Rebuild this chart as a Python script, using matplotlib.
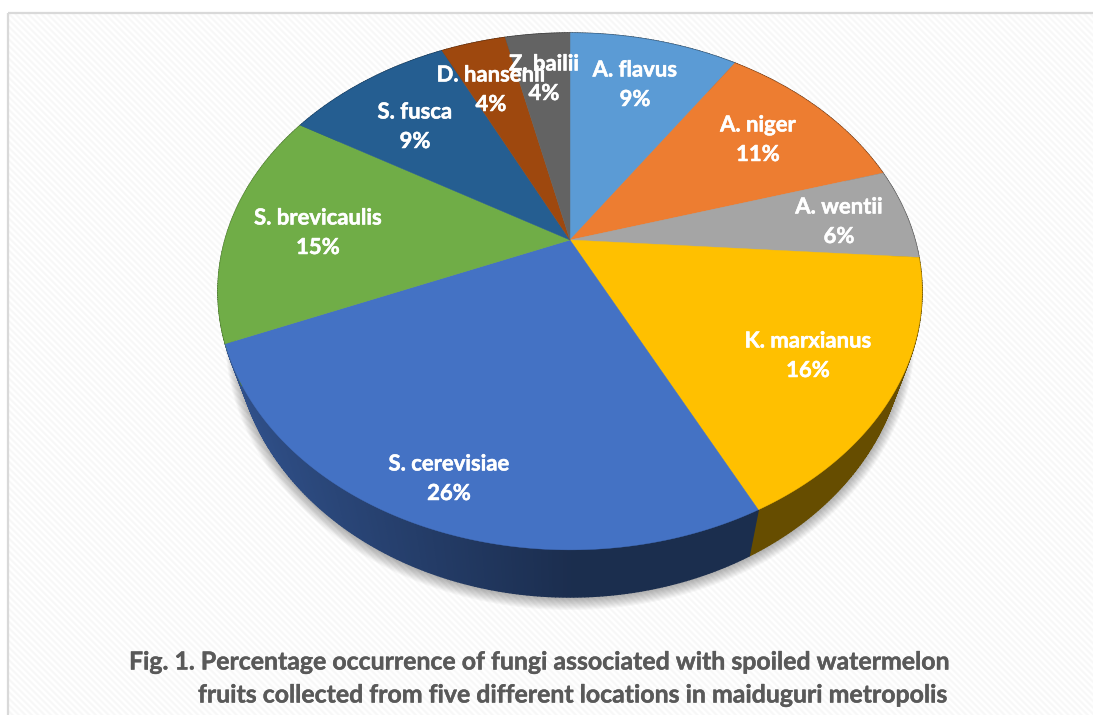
import numpy as np
import matplotlib
matplotlib.use("Agg")
import matplotlib.pyplot as plt
import matplotlib.patheffects as pe
from matplotlib.patches import Polygon

# ---- data ----
species = ["A. flavus", "A. niger", "A. wentii", "K. marxianus", "S. cerevisiae",
           "S. brevicaulis", "S. fusca", "D. hansenii", "Z. bailii"]
shares = [9.4, 11.0, 5.7, 16.49, 26.1, 14.8, 9.3, 3.6, 3.6]
caption = ["Fig. 1. Percentage occurrence of fungi associated with spoiled watermelon",
           "fruits collected from five different locations in maiduguri metropolis"]

# ---- style / layout ----
colors = ["#5b9bd5", "#ed7d31", "#a5a5a5", "#ffc000", "#4472c4",
          "#70ad47", "#255e91", "#9e480e", "#636363"]
label_xy = [(635, 70), (758, 125), (839, 207), (808, 341), (449, 464),
            (318, 218), (415, 112), (491, 75), (544, 64)]
label_size = 15.9
W, H = 1093, 715
CX, CY = 570, 240               # apex of the top face
A, B, K = 345.0, 248.2, 0.199   # perspective projection of the disc
LOW_SX, LOW_SY, DROP = 0.9516, 1.0254, 39.3   # bottom face relative to the top face
FONT = "Lato"
BOLDER = [pe.withStroke(linewidth=0.35, foreground="white")]
BOLDER_CAP = [pe.withStroke(linewidth=0.3, foreground="#595959")]


def project(theta, sx=1.0, sy=1.0, drop=0.0):
    """theta is clockwise from 12 o'clock, in radians."""
    X, Y = np.sin(theta), np.cos(theta)
    w = 1 + K * Y
    return np.column_stack([CX + sx * A * X / w, CY + drop - sy * B * Y / w])


def shade(x):
    return np.interp(x, [240, 570], [0.70, 0.40])


fig = plt.figure(figsize=(W / 100, H / 100), dpi=100)
ax = fig.add_axes([0, 0, 1, 1])
ax.set_xlim(0, W)
ax.set_ylim(H, 0)
ax.axis("off")

# striped background inside the frame
yy, xx = np.mgrid[0:H, 0:W]
stripe = 0.5 + 0.5 * np.sin(2 * np.pi * (xx - yy) / 6.4)
bg = 1.0 - 0.035 * stripe
bg[:13, :] = 1.0
bg[:, :8] = 1.0
ax.imshow(bg, cmap="gray", vmin=0, vmax=1, extent=(0, W, H, 0),
          interpolation="nearest", aspect="auto", zorder=0)
ax.plot([8, 8], [H, 13], color="#d9d9d9", lw=1.6, zorder=1, solid_capstyle="butt")
ax.plot([8, W], [13, 13], color="#d9d9d9", lw=1.6, zorder=1, solid_capstyle="butt")

# soft drop shadow under the disc
circle = np.linspace(0, 2 * np.pi, 361)
for grow in np.linspace(10, 0, 11):
    pts = project(circle, sx=LOW_SX * (1 + grow / 335), sy=LOW_SY * (1 + grow / 265), drop=DROP + 1)
    ax.add_patch(Polygon(pts, closed=True, fc="#000000", ec="none", alpha=0.03, zorder=2))

# wedges
edges = np.radians(np.concatenate([[0], np.cumsum(shares)]) * 3.6 * 100 / sum(shares))

# side wall
for i, col in enumerate(colors):
    base = np.array(matplotlib.colors.to_rgb(col))
    n = max(int(np.degrees(edges[i + 1] - edges[i]) * 2), 2)
    steps = np.linspace(edges[i], edges[i + 1], n + 1)
    for t0, t1 in zip(steps[:-1], steps[1:]):
        t = np.array([t0, t1])
        top = project(t)
        low = project(t, sx=LOW_SX, sy=LOW_SY, drop=DROP)
        quad = np.vstack([top, low[::-1]])
        c = base * shade(quad[:, 0].mean())
        ax.add_patch(Polygon(quad, closed=True, fc=c, ec=c, lw=1.0, zorder=3))

# top face
for i, col in enumerate(colors):
    t = np.linspace(edges[i], edges[i + 1], 120)
    rim = project(t)
    pts = np.vstack([[CX, CY], rim])
    ax.add_patch(Polygon(pts, closed=True, fc=col, ec=col, lw=0.3, zorder=4))

# labels
for name, share, (x, y) in zip(species, shares, label_xy):
    ax.text(x, y, name, color="white", fontsize=label_size, fontweight="bold", family=FONT,
            ha="center", va="center", zorder=5, path_effects=BOLDER)
    ax.text(x, y + 29.5, f"{round(share):d}%", color="white", fontsize=label_size, fontweight="bold",
            family=FONT, ha="center", va="center", zorder=5, path_effects=BOLDER)

# caption
ax.text(129, 662, caption[0], color="#595959", fontsize=17.9, fontweight="bold", family=FONT,
        ha="left", va="center", zorder=5, path_effects=BOLDER_CAP)
ax.text(198, 695, caption[1], color="#595959", fontsize=17.9, fontweight="bold", family=FONT,
        ha="left", va="center", zorder=5, path_effects=BOLDER_CAP)

fig.savefig("out.png", dpi=100)
